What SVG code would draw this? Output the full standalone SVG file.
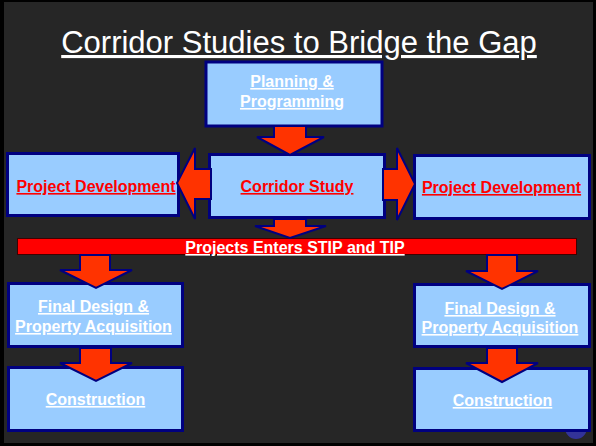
<svg xmlns="http://www.w3.org/2000/svg" width="596" height="446" viewBox="0 0 596 446">
<style>
.box{fill:#99CCFF;stroke:#000080;stroke-width:3}
.arr{fill:#FF3300;stroke:#000080;stroke-width:2;stroke-linejoin:miter}
.t{font-family:"Liberation Sans",Arial,sans-serif;font-weight:bold;font-size:16px;text-anchor:middle;text-decoration:underline}
.w{fill:#FFFFFF}
.r{fill:#FF0000}
</style>
<rect x="0" y="0" width="596" height="446" fill="#000000"/>
<rect x="4" y="2" width="589" height="441" fill="#262626"/>
<circle cx="576" cy="428" r="11" fill="#333399"/>
<text x="299" y="53" font-family="'Liberation Sans',Arial,sans-serif" font-size="31" fill="#FFFFFF" text-anchor="middle" text-decoration="underline">Corridor Studies to Bridge the Gap</text>

<g id="planning">
<rect class="box" x="206" y="62" width="176" height="64"/>
<text class="t w" x="292" y="87">Planning &amp;</text>
<text class="t w" x="292" y="107">Programming</text>
</g>
<g id="corridor">
<rect class="box" x="209.5" y="154.5" width="175" height="63"/>
<text class="t r" x="297" y="192">Corridor Study</text>
</g>
<g id="pd-left">
<rect class="box" x="7.5" y="153.5" width="171" height="62"/>
<text class="t r" x="96" y="192">Project Development</text>
</g>
<g id="pd-right">
<rect class="box" x="414.5" y="155.5" width="175" height="63"/>
<text class="t r" x="501.5" y="193">Project Development</text>
</g>
<g id="stip">
<rect x="17.5" y="238.5" width="559" height="16" fill="#FF0000" stroke="#400000" stroke-width="1"/>
<text class="t w" x="295" y="253">Projects Enters STIP and TIP</text>
</g>
<g id="fd-left">
<rect class="box" x="8.5" y="283.5" width="174" height="63"/>
<text class="t w" x="93.5" y="312">Final Design &amp;</text>
<text class="t w" x="93.5" y="332">Property Acquisition</text>
</g>
<g id="cons-left">
<rect class="box" x="8.5" y="367.5" width="174" height="63"/>
<text class="t w" x="95.5" y="405">Construction</text>
</g>
<g id="fd-right">
<rect class="box" x="414.5" y="284.5" width="175" height="62"/>
<text class="t w" x="500" y="314">Final Design &amp;</text>
<text class="t w" x="500" y="333">Property Acquisition</text>
</g>
<g id="cons-right">
<rect class="box" x="414.5" y="368.5" width="175" height="62"/>
<text class="t w" x="502.5" y="406">Construction</text>
</g>

<g id="connectors">
<polygon class="arr" points="274,126 306,126 306,137 324,137 290,155 257,137 274,137"/>
<polygon class="arr" points="274,219 306,219 306,226 326,226 290,238 255,226 274,226"/>
<polygon class="arr" points="211,169 195,169 195,148 177,183 195,219 195,199 211,199"/>
<polygon class="arr" points="383,169 397,169 397,148 415,184 397,220 397,200 383,200"/>
<polygon class="arr" points="80,255 110,255 110,270 132,270 96,288 60,270 80,270"/>
<polygon class="arr" points="80,348 111,348 111,363 132,363 96,381 60,363 80,363"/>
<polygon class="arr" points="487,255 517,255 517,271 538,271 502,289 466,271 487,271"/>
<polygon class="arr" points="487,348 517,348 517,363 538,363 502,382 466,363 487,363"/>
</g>
</svg>
